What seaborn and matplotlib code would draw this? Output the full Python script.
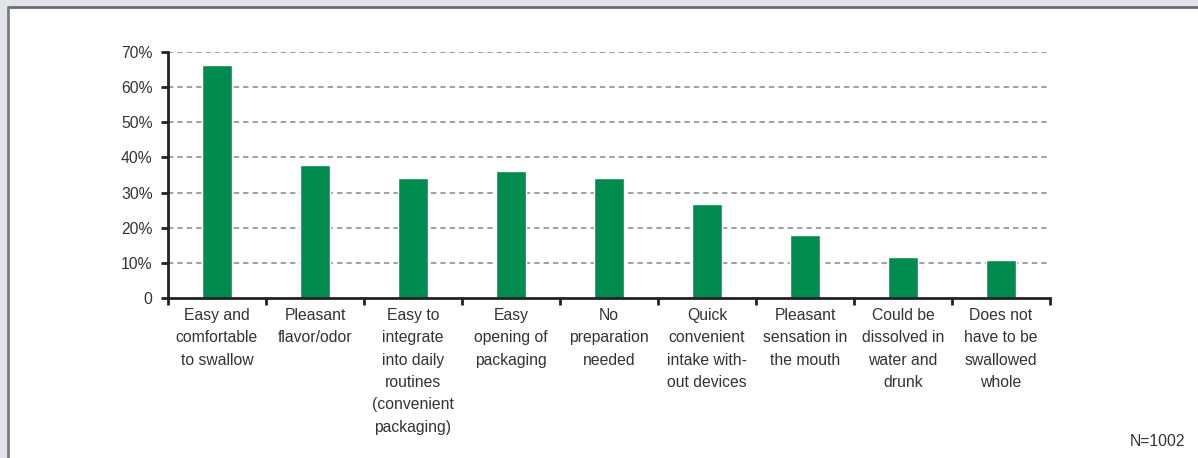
import matplotlib
matplotlib.use("Agg")
import matplotlib.pyplot as plt
import matplotlib.patches as mpatches
from matplotlib.ticker import FixedLocator, FuncFormatter
import seaborn as sns
import pandas as pd

categories = [
    "Easy and\ncomfortable\nto swallow",
    "Pleasant\nflavor/odor",
    "Easy to\nintegrate\ninto daily\nroutines\n(convenient\npackaging)",
    "Easy\nopening of\npackaging",
    "No\npreparation\nneeded",
    "Quick\nconvenient\nintake with-\nout devices",
    "Pleasant\nsensation in\nthe mouth",
    "Could be\ndissolved in\nwater and\ndrunk",
    "Does not\nhave to be\nswallowed\nwhole",
]
values = [0.663, 0.378, 0.341, 0.361, 0.341, 0.268, 0.179, 0.117, 0.108]
y_ticks = [0, 0.1, 0.2, 0.3, 0.4, 0.5, 0.6, 0.7]
y_labels = ["0", "10%", "20%", "30%", "40%", "50%", "60%", "70%"]
note = "N=1002"

sns.set_theme(style="white")
plt.rcParams["font.family"] = ["Liberation Sans", "DejaVu Sans"]

FS = 11.3
W, H = 1198, 458
fig = plt.figure(figsize=(W / 100, H / 100), dpi=100)
fig.patch.set_facecolor("white")
# gray outer strips with dark top/left border
fig.patches.append(mpatches.Rectangle((0, 1 - 6 / H), 1, 6 / H, transform=fig.transFigure,
                                      facecolor="#e1e5ea", edgecolor="none", zorder=-5))
fig.patches.append(mpatches.Rectangle((0, 0), 7 / W, 1, transform=fig.transFigure,
                                      facecolor="#e1e5ea", edgecolor="none", zorder=-5))
fig.lines.append(plt.Line2D([7.5 / W, 1], [1 - 6.5 / H, 1 - 6.5 / H], transform=fig.transFigure,
                            color="#6b6b6b", lw=2, zorder=-4))
fig.lines.append(plt.Line2D([7.5 / W, 7.5 / W], [0, 1 - 6.5 / H], transform=fig.transFigure,
                            color="#7a7a7a", lw=2, zorder=-4))

ax = fig.add_axes([168 / W, 1 - 298 / H, (1050 - 168) / W, (298 - 52) / H])
ax.set_facecolor("white")

df = pd.DataFrame({"cat": categories, "val": values})
sns.barplot(data=df, x="cat", y="val", color="#008c4e", saturation=1, width=0.31, ax=ax, zorder=3)

ax.set_xlim(-0.5, len(categories) - 0.5)
ax.set_ylim(0, 0.7)
ax.set_xlabel("")
ax.set_ylabel("")

ax.yaxis.set_major_locator(FixedLocator(y_ticks))
ax.set_yticklabels(y_labels)
ax.xaxis.set_major_locator(FixedLocator([i - 0.5 for i in range(len(categories) + 1)]))
ax.xaxis.set_minor_locator(FixedLocator(list(range(len(categories)))))
ax.xaxis.set_major_formatter(FuncFormatter(lambda v, p: ""))
ax.set_xticklabels(categories, minor=True)

ax.tick_params(axis="x", which="major", direction="out", length=5, width=2, color="#222222", bottom=True)
ax.tick_params(axis="x", which="minor", length=0, pad=7, labelsize=FS, labelcolor="#333333")
ax.tick_params(axis="y", direction="out", length=5, width=2, color="#222222", left=True,
               labelsize=FS, labelcolor="#333333", pad=6)
for lbl in ax.get_xticklabels(minor=True):
    lbl.set_linespacing(1.62)

for y in y_ticks[1:]:
    ax.axhline(y, color="#999999", lw=1.3, ls=(0, (3, 2.2)), zorder=1)

for s in ["top", "right"]:
    ax.spines[s].set_visible(False)
for s in ["left", "bottom"]:
    ax.spines[s].set_color("#222222")
    ax.spines[s].set_linewidth(2)
ax.spines["bottom"].set_zorder(4)

fig.text(1185 / W, 1 - 441 / H, note, ha="right", va="center", fontsize=FS, color="#333333")

fig.savefig("out.png", dpi=100, facecolor=fig.get_facecolor())
